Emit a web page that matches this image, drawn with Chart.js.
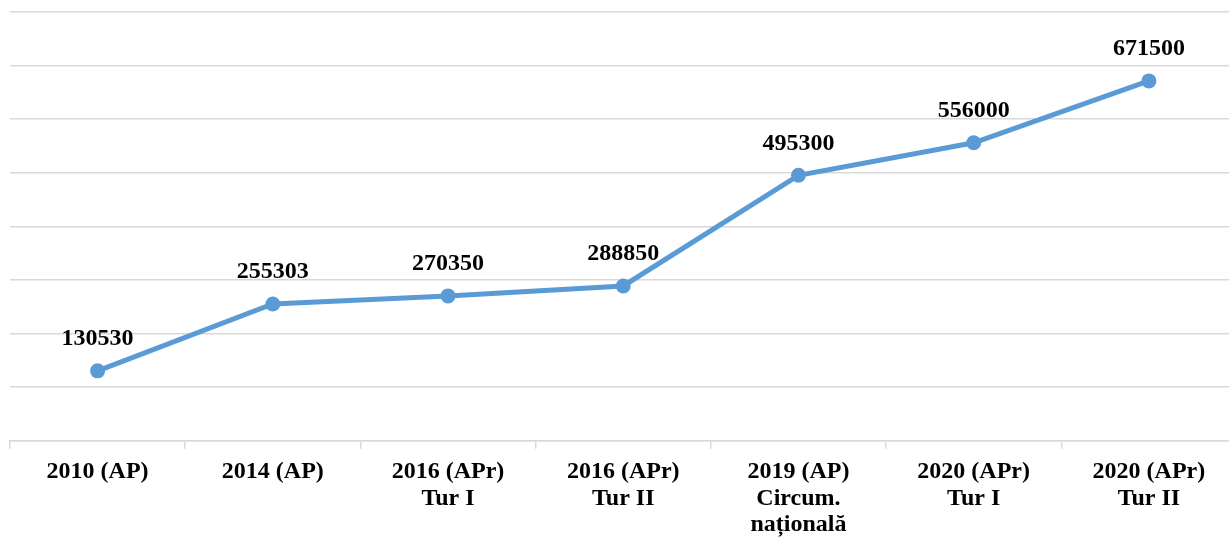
<!DOCTYPE html>
<html>
<head>
<meta charset="utf-8">
<script src="https://cdn.jsdelivr.net/npm/chart.js@4/dist/chart.umd.min.js"></script>
<style>
  html, body { margin: 0; padding: 0; overflow: hidden; background: #fff; }
  #wrap { width: 1244px; height: 548px; position: relative; }
</style>
</head>
<body>
<div id="wrap"><canvas id="chart"></canvas></div>
<script>
var categories = [
    ['2010 (AP)'],
    ['2014 (AP)'],
    ['2016 (APr)', 'Tur I'],
    ['2016 (APr)', 'Tur II'],
    ['2019 (AP)', 'Circum.', 'națională'],
    ['2020 (APr)', 'Tur I'],
    ['2020 (APr)', 'Tur II']
];
var values = [130530, 255303, 270350, 288850, 495300, 556000, 671500];
var yTicks = { min: 0, max: 800000, step: 100000 };

var serif = "'Liberation Serif', 'Times New Roman', serif";

// draw the value above each point
var valueLabels = {
    id: 'valueLabels',
    afterDatasetsDraw: function(chart) {
        var ctx = chart.ctx;
        var meta = chart.getDatasetMeta(0);
        ctx.save();
        ctx.font = 'bold 24px ' + serif;
        ctx.fillStyle = '#000';
        ctx.textAlign = 'center';
        ctx.textBaseline = 'middle';
        meta.data.forEach(function(pt, i) {
            ctx.fillText(String(chart.data.datasets[0].data[i]), pt.x, pt.y - 32);
        });
        ctx.restore();
    }
};

var ctx = document.getElementById('chart').getContext('2d');
var myChart = new Chart(ctx, {
    type: 'line',
    data: {
        labels: categories,
        datasets: [{
            data: values,
            borderColor: '#5b9bd5',
            backgroundColor: '#5b9bd5',
            borderWidth: 5,
            pointRadius: 7.5,
            pointHoverRadius: 7.5,
            pointBackgroundColor: '#5b9bd5',
            pointBorderWidth: 0,
            tension: 0,
            fill: false
        }]
    },
    options: {
        responsive: true,
        maintainAspectRatio: false,
        animation: false,
        layout: { padding: { left: 10, top: 12, right: 0, bottom: 0 } },
        plugins: {
            legend: { display: false },
            tooltip: { enabled: false }
        },
        scales: {
            x: {
                offset: true,
                grid: {
                    offset: true,
                    drawOnChartArea: false,
                    drawTicks: true,
                    tickLength: 8,
                    color: '#d9d9d9',
                    lineWidth: 1.5
                },
                border: { color: '#d9d9d9', width: 1.5 },
                ticks: {
                    color: '#000',
                    padding: 10,
                    maxRotation: 0,
                    autoSkip: false,
                    font: { family: serif, size: 24, weight: 'bold', lineHeight: 1.1 }
                }
            },
            y: {
                min: yTicks.min,
                max: yTicks.max,
                ticks: { display: false, stepSize: yTicks.step },
                grid: { color: '#d9d9d9', lineWidth: 1.5, drawTicks: false },
                border: { display: false }
            }
        }
    },
    plugins: [valueLabels]
});
</script>
</body>
</html>
